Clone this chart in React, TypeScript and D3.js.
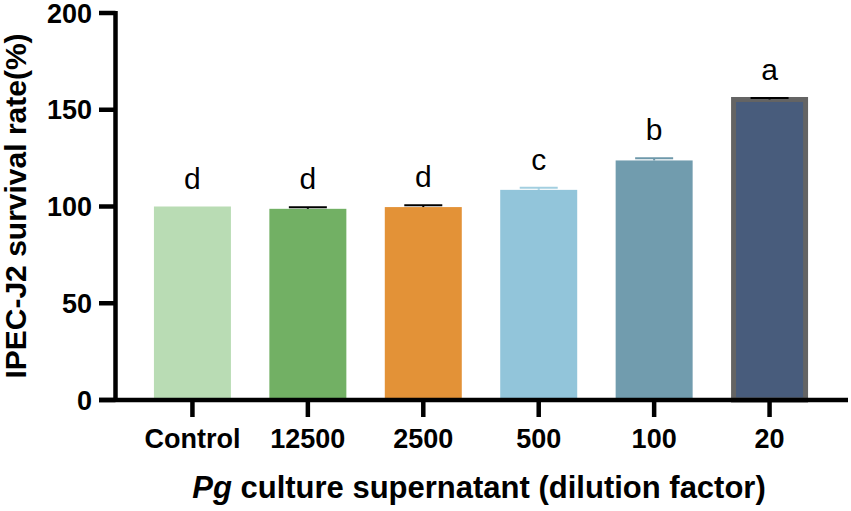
import * as d3 from "d3";

const categories = ["Control", "12500", "2500", "500", "100", "20"];
const means = [100, 98.8, 99.7, 108.6, 123.8, 155.3];
const errors = [0, 0.8, 1.0, 1.1, 1.1, 0.8];
const letters = ["d", "d", "d", "c", "b", "a"];
const fills = ["#b9dcb4", "#72b064", "#e39237", "#92c5da", "#719cae", "#485c7c"];
const errColors = ["#000", "#000", "#000", "#a3cfe0", "#6e98aa", "#000"];
const yTicks = [0, 50, 100, 150, 200];

const font = "'Liberation Sans', Arial, sans-serif";

export default function App() {
  const width = 851;
  const height = 511;
  const x = d3
    .scaleBand<string>()
    .domain(categories)
    .range([115.5, 846.5])
    .paddingInner(0.333)
    .paddingOuter(0.333);
  const y = d3.scaleLinear([0, 200], [400, 13]);
  const axisLeft = 115.5;
  const base = y(0);

  return (
    <svg
      width={width}
      height={height}
      viewBox={`0 0 ${width} ${height}`}
      style={{ position: "absolute", left: 0, top: 0, background: "#fff" }}
      fontFamily={font}
    >
      {categories.map((c, i) => {
        const x0 = x(c)!;
        const cx = x0 + x.bandwidth() / 2;
        const outlined = i === categories.length - 1;
        const top = y(means[i] + errors[i]);
        return (
          <g key={c}>
            <rect
              x={x0 + (outlined ? 2.5 : 0)}
              y={y(means[i])}
              width={x.bandwidth() - (outlined ? 5 : 0)}
              height={base - y(means[i])}
              fill={fills[i]}
              stroke={outlined ? "#646464" : "none"}
              strokeWidth={outlined ? 5 : 0}
            />
            {errors[i] > 0 && (
              <g stroke={errColors[i]} strokeWidth={2}>
                <line x1={cx} x2={cx} y1={y(means[i])} y2={top} />
                <line x1={cx - 19} x2={cx + 19} y1={top} y2={top} />
              </g>
            )}
            <text x={cx} y={top - 18} textAnchor="middle" fontSize={30} fill="#000">
              {letters[i]}
            </text>
            <line x1={cx} x2={cx} y1={base} y2={base + 17} stroke="#000" strokeWidth={4.5} />
            <text
              x={cx}
              y={448}
              textAnchor="middle"
              fontSize={27}
              fontWeight="bold"
              fill="#000"
            >
              {c}
            </text>
          </g>
        );
      })}

      {/* y axis */}
      <line x1={axisLeft} x2={axisLeft} y1={y(200) - 2} y2={base + 2} stroke="#000" strokeWidth={4.5} />
      {yTicks.map((t) => (
        <g key={t}>
          <line x1={99} x2={axisLeft} y1={y(t)} y2={y(t)} stroke="#000" strokeWidth={4.5} />
          <text
            x={92}
            y={y(t)}
            dy="0.36em"
            textAnchor="end"
            fontSize={27}
            fontWeight="bold"
            fill="#000"
          >
            {t}
          </text>
        </g>
      ))}
      {/* x axis */}
      <line x1={99} x2={848} y1={base} y2={base} stroke="#000" strokeWidth={4.5} />

      <text
        x={479}
        y={498}
        textAnchor="middle"
        fontSize={31}
        fontWeight="bold"
        fill="#000"
      >
        <tspan fontStyle="italic">Pg</tspan> culture supernatant (dilution factor)
      </text>
      <text
        transform="translate(26 206) rotate(-90)"
        textAnchor="middle"
        fontSize={30}
        fontWeight="bold"
        fill="#000"
      >
        IPEC-J2 survival rate(%)
      </text>
    </svg>
  );
}
